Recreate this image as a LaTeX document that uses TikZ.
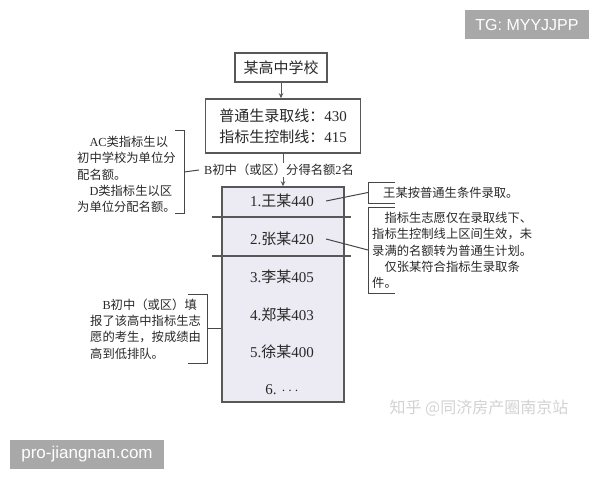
\documentclass[tikz,border=0pt]{standalone}
\usepackage{fontspec}
\setmainfont{Liberation Serif}
\newfontfamily\cjk{Noto Sans CJK SC}
\newfontfamily\wmfont{Liberation Sans}
\usetikzlibrary{arrows.meta,calc}
\newcommand\zh[1]{{\cjk #1}}
\newcommand\lt[1]{{\rmfamily #1}}
\definecolor{boxgray}{RGB}{88,88,88}
\definecolor{linegray}{RGB}{70,70,70}
\definecolor{textgray}{RGB}{40,40,40}
\definecolor{listfill}{RGB}{236,235,243}
\definecolor{wmgray}{RGB}{168,168,168}
\tikzset{
  box/.style={draw=boxgray, line width=1.6pt, inner sep=0pt, text=textgray,
    font=\cjk\fontsize{15}{21}\selectfont},
  rowtext/.style={inner ysep=0pt, inner xsep=12pt, text=textgray,
    font=\rmfamily\fontsize{15}{18}\selectfont},
  note/.style={inner sep=0pt, align=left, text=textgray,
    font=\cjk\fontsize{12.3}{16.25}\selectfont},
  thin/.style={draw=linegray, line width=1pt},
  sepline/.style={draw=boxgray, line width=1.3pt},
  arr/.style={draw=boxgray, line width=1pt, -{Stealth[length=5pt,width=4.5pt]}},
  wmbox/.style={fill=wmgray, text=white, inner sep=0pt, font=\wmfont}
}
\begin{document}
\begin{tikzpicture}[x=1pt,y=-1pt]
\useasboundingbox (0,0) rectangle (600,480);
% main boxes
\node[box, minimum width=92pt, minimum height=29pt] (school) at (281,67.5) {某高中学校};
\node[box, minimum width=155pt, minimum height=54pt, align=left] (lines) at (283,126)
  {普通生录取线：\lt{430}\\指标生控制线：\lt{415}};
\node[draw=boxgray, line width=1.5pt, fill=listfill, minimum width=122pt,
  minimum height=215pt, inner sep=0pt] (list) at (283,294.5) {};
% arrows
\draw[arr] (school.south) -- (school.south |- lines.north);
\draw[arr] (lines.south) -- (list.north);
\node[note, anchor=west, inner xsep=5pt, inner ysep=1pt, fill=white] (quota) at (199,170)
  {\lt{B}初中（或区）分得名额\lt{2}名};
% rows
\node[rowtext] (r1) at (282,201) {1.\zh{王某}440};
\node[rowtext] (r2) at (282,239) {2.\zh{张某}420};
\node[rowtext] (r3) at (282,277) {3.\zh{李某}405};
\node[rowtext] (r4) at (282,315) {4.\zh{郑某}403};
\node[rowtext] (r5) at (282,352) {5.\zh{徐某}400};
\node[rowtext] (r6) at (282,390) {6. $\cdots$};
\draw[sepline] (212,217) -- (351,217);
\draw[sepline] (212,256) -- (351,256);
% notes
\node[note, anchor=west] (n1) at (77,174.5)
  {\hspace*{1em}\lt{AC}类指标生以\\初中学校为单位分\\配名额。\\\hspace*{1em}\lt{D}类指标生以区\\为单位分配名额。};
\node[note, anchor=west] (n2) at (383,193) {王某按普通生条件录取。};
\node[note, anchor=west] (n3) at (372,250.5)
  {\hspace*{1em}指标生志愿仅在录取线下、\\指标生控制线上区间生效，未\\录满的名额转为普通生计划。\\\hspace*{1em}仅张某符合指标生录取条\\件。};
\node[note, anchor=west] (n4) at (90,329)
  {\hspace*{1em}\lt{B}初中（或区）填\\报了该高中指标生志\\愿的考生，按成绩由\\高到低排队。};
% brackets
\draw[thin] (175,130) -- (184,130) -- (184,213) -- (175,213);
\coordinate (bl1) at (184,172);
\draw[thin] (bl1) -- (quota.west);
\draw[thin] (395,182) -- (368,182) -- (368,203) -- (395,203);
\coordinate (br1) at (368,192.5);
\draw[thin] (r1.east) -- (br1);
\draw[thin] (395,207) -- (368,207) -- (368,293) -- (395,293);
\coordinate (br2) at (368,250);
\draw[thin] (r2.east) -- (br2);
\draw[thin] (188,294) -- (207,294) -- (207,363) -- (188,363);
\coordinate (bl2) at (207,328.5);
\draw[thin] (bl2) -- (bl2 -| list.west);
% watermarks
\node[font=\cjk\fontsize{16}{16}\selectfont, text=gray!35] (zhihu) at (479,408) {知乎 @同济房产圈南京站};
\node[wmbox, minimum width=124pt, minimum height=29pt, font=\wmfont\fontsize{16}{16}\selectfont] (tg) at (527,24.5) {TG: MYYJJPP};
\node[wmbox, minimum width=154pt, minimum height=29pt, font=\wmfont\fontsize{17}{17}\selectfont] (pro) at (87,454.5) {pro-jiangnan.com};
\end{tikzpicture}
\end{document}
